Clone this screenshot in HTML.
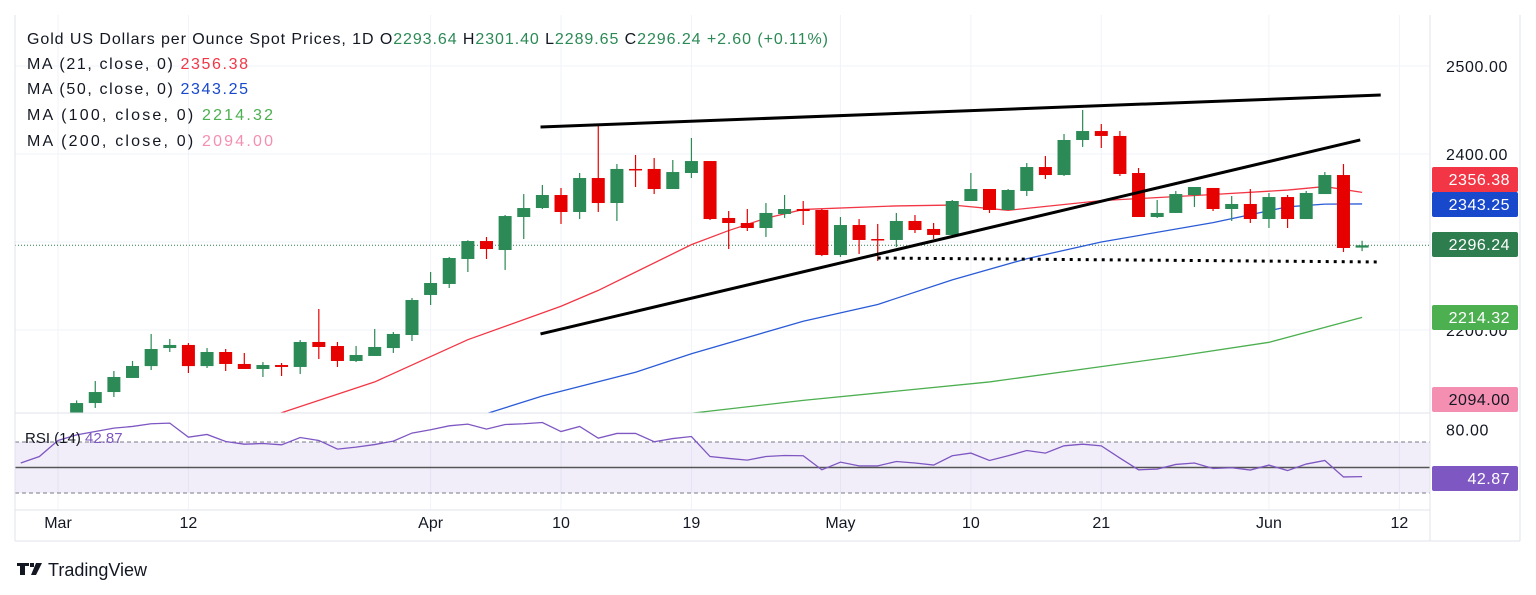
<!DOCTYPE html>
<html><head><meta charset="utf-8">
<style>
html,body{margin:0;padding:0;background:#fff;}
svg{display:block;font-family:"Liberation Sans",sans-serif;}
</style></head>
<body>
<svg id="chart" width="1536" height="595" viewBox="0 0 1536 595" xmlns="http://www.w3.org/2000/svg">
<defs>
<clipPath id="pc"><rect x="15" y="15" width="1415" height="398"/></clipPath>
<clipPath id="rc"><rect x="15" y="413" width="1415" height="97"/></clipPath>
</defs>
<g id="grid"></g>
<g id="price" clip-path="url(#pc)"></g>
<g id="rsi" clip-path="url(#rc)"></g>
<g id="axes"></g>
<g font-size="16" fill="#131722">
<text x="27" y="44" textLength="801" lengthAdjust="spacing">Gold US Dollars per Ounce Spot Prices, 1D  O<tspan fill="#2b8a55">2293.64</tspan> H<tspan fill="#2b8a55">2301.40</tspan> L<tspan fill="#2b8a55">2289.65</tspan> C<tspan fill="#2b8a55">2296.24 +2.60 (+0.11%)</tspan></text>
<text x="27" y="69" textLength="221" lengthAdjust="spacing">MA (21, close, 0)  <tspan fill="#f23645">2356.38</tspan></text>
<text x="27" y="94" textLength="221" lengthAdjust="spacing">MA (50, close, 0)  <tspan fill="#1848cc">2343.25</tspan></text>
<text x="27" y="120" textLength="246" lengthAdjust="spacing">MA (100, close, 0)  <tspan fill="#4caf50">2214.32</tspan></text>
<text x="27" y="146" textLength="246" lengthAdjust="spacing">MA (200, close, 0)  <tspan fill="#f48fb1">2094.00</tspan></text>
<text x="25" y="443" font-size="15">RSI (14)  <tspan fill="#7e57c2">42.87</tspan></text>
</g>
<g>
<path d="M17 563h12v3h-4v9h-5v-9h-3z M30 563h4v4h-4z M36 563h6l-6 12h-5z" fill="#131722"/>
<text x="48" y="576" font-size="18" fill="#131722">TradingView</text>
</g>
</svg>
<script>
const opens  =[2045,2102,2117,2129.5,2145.5,2159,2179.5,2183,2159,2175,2161.4,2155.7,2160.2,2158,2186.4,2181.8,2164.8,2170.5,2179.5,2194.3,2239.8,2252.3,2280.7,2301.1,2290.9,2328.4,2338.6,2353.4,2334.1,2372.7,2344.3,2383,2383,2360.2,2378.4,2392,2327.3,2321.6,2315.9,2331.8,2337.5,2336.4,2285.2,2319.3,2303.4,2302.3,2323.9,2314.8,2308,2346.6,2360.2,2336.4,2358,2385.2,2376.1,2415.9,2426.1,2420.5,2378.4,2328.4,2333,2353.4,2361.4,2337.5,2343.2,2326.1,2351.1,2326.1,2354.5,2376.1,2293.64];
const highs  =[2088,2120,2142,2153.4,2164.8,2195.5,2189.8,2185.2,2179.5,2178.4,2173.9,2163.6,2162.5,2188.6,2223.9,2186.4,2181.8,2201.1,2197.7,2236.4,2265.9,2283,2302,2305.7,2330.7,2354.5,2364.8,2361.4,2378.4,2431.8,2388.6,2398.9,2395.5,2393.2,2418.2,2392,2335.2,2337.5,2344.3,2353.4,2346.6,2337.5,2328.4,2326.1,2320.5,2333,2330.7,2321.6,2347.7,2378.4,2360.2,2360.2,2389.8,2397.7,2422.7,2450,2434.1,2426.1,2384.1,2347.7,2358,2362.5,2361.4,2352.3,2360.2,2355.7,2353.4,2358,2379.5,2388.6,2301.4];
const lows   =[2040,2097,2111.4,2123.9,2145.5,2154.5,2175,2151.1,2156.8,2153.4,2155.7,2146.6,2147.7,2150,2167,2158,2163.6,2170.5,2173.9,2187.5,2228.4,2247.7,2265.9,2280.7,2268.2,2303.4,2337.5,2320.5,2326.1,2334.1,2323.9,2362.5,2354.5,2360.2,2372.7,2325,2292,2312.5,2305.7,2327.3,2319.3,2284,2283,2286.4,2278.4,2294.3,2310.2,2303.4,2308,2346.6,2333,2336.4,2352.3,2371.6,2375,2408,2406.8,2375,2328.4,2327.3,2333,2339.8,2335.2,2323.9,2321.6,2315.9,2315.9,2326.1,2354.5,2288.6,2289.65];
const closes =[2083,2117,2129.5,2146.6,2159.1,2178.4,2183,2159,2175,2161.4,2155.7,2160.2,2158,2186.4,2180.7,2164.8,2171.6,2180.7,2195.5,2234.1,2253.4,2281.8,2301.1,2292,2329.5,2338.6,2353.4,2334.1,2372.7,2344.3,2383,2381.8,2360.2,2379.5,2392,2326.1,2321.6,2315.9,2333,2337.5,2335.2,2285.2,2319.3,2302.3,2302.3,2323.9,2313.6,2308,2346.6,2360.2,2336.4,2359.1,2385.2,2376.1,2415.9,2426.1,2420.5,2377.3,2328.4,2333,2354.5,2362.5,2337.5,2343.2,2326.1,2351.1,2326.1,2355.7,2376.1,2293.2,2296.24];
const ma21Idx=[11,12,17,22,27,29,34,36,38,40,45,48,51,56,62,66,68,70];
const ma21Val=[2098,2106,2141,2189,2227,2245,2297,2313,2327,2337,2341,2342,2336,2347,2354,2359,2363,2356.38];
const ma50Idx=[22,23,26,31,34,40,44,48,52,56,62,66,68,70];
const ma50Val=[2098,2105,2125,2152,2173,2210,2229,2257,2281,2300,2322,2340,2343,2343.25];
const ma100Idx=[33,40,50,60,65,70];
const ma100Val=[2103,2120,2141,2170,2186,2214.32];
const rsiIdx=[-2,-1,0,1,2,3,4,5,6,7,8,9,10,11,12,13,14,15,16,17,18,19,20,21,22,23,24,25,26,27,28,29,30,31,32,33,34,35,36,37,38,39,40,41,42,43,44,45,46,47,48,49,50,51,52,53,54,55,56,57,58,59,60,61,62,63,64,65,66,67,68,69,70];
const rsiVal=[53.5,58.6,71.2,75.6,78.2,80.9,82.2,84.3,84.8,73.8,75.9,70.4,68.3,68.8,67.8,73.5,71.2,64.4,66,68,70.7,77,79.6,82.7,84,80.1,83.7,84.3,85.3,78.2,82.2,73,76.7,76.7,70.2,72.7,74.3,58.6,57.1,55.8,58.6,59.4,59.2,48.2,54.2,51.3,51.3,54.7,53.5,51.9,59.2,61.3,55.5,59.2,63.3,61.3,67,68.3,67,57.4,48.2,48.7,52.4,53.5,49.2,49.8,48,51.9,47.6,52.7,55.5,42.6,42.87];
const xLabels=["Mar","12","Apr","10","19","May","10","21","Jun","12"];
const xLabelIdx=[0,7,20,27,34,42,49,56,65,72];
const priceTicks=[2500,2400,2300,2200];
const priceTickLabels=["2500.00","2400.00","","2200.00"];
const upperTrend=[[25.9,2430.7],[71,2467]];
const lowerTrend=[[25.9,2195.5],[69.9,2416]];
const supportLine=[[44,2281.8],[71,2277.3]];

const NS="http://www.w3.org/2000/svg";
const X=i=>58+18.63*i;
const Y=p=>154+(2400-p)*0.88;
const RY=v=>467.5-(v-50)*1.275;
function mk(tag,attrs,parent){const e=document.createElementNS(NS,tag);for(const k in attrs)e.setAttribute(k,attrs[k]);parent.appendChild(e);return e;}
const grid=document.getElementById('grid'),price=document.getElementById('price'),rsi=document.getElementById('rsi'),axes=document.getElementById('axes');

xLabelIdx.forEach((ix,k)=>{
  const l=mk('line',{x1:X(ix),x2:X(ix),y1:15,y2:510,stroke:'#f0f3fa','stroke-width':1},grid);
  
  
});
priceTicks.forEach(p=>{
  const l=mk('line',{x1:15,x2:1430,y1:Y(p),y2:Y(p),stroke:'#f0f3fa','stroke-width':1},grid);
  
  
});
const bg=mk('rect',{x:15,y:RY(70),width:1415,height:RY(30)-RY(70),fill:'#7e57c2','fill-opacity':0.1},rsi);


[70,30].forEach(v=>{
  const l=mk('line',{x1:15,x2:1430,y1:RY(v),y2:RY(v),stroke:'#787b86','stroke-dasharray':'4 3','stroke-width':1},rsi);
  
  
});
const mid=mk('line',{x1:15,x2:1430,y1:RY(50),y2:RY(50),stroke:'#555','stroke-width':1.5},rsi);


const rp=mk('polyline',{points:rsiIdx.map((ix,k)=>X(ix)+','+RY(rsiVal[k])).join(' '),fill:'none',stroke:'#7e57c2','stroke-width':1.3},rsi);



const lp=mk('line',{x1:15,x2:1430,y1:Y(closes[closes.length-1]),y2:Y(closes[closes.length-1]),stroke:'#2e7d4f','stroke-dasharray':'1 2','stroke-width':1},price);



function maLine(idx,val,color,name){
  const p=mk('polyline',{points:idx.map((ix,k)=>X(ix)+','+Y(val[k])).join(' '),fill:'none',stroke:color,'stroke-width':1.3},price);
  
  
}
maLine(ma100Idx,ma100Val,'#4caf50','ma100-line');
maLine(ma50Idx,ma50Val,'#2a5bd7','ma50-line');
maLine(ma21Idx,ma21Val,'#f23645','ma21-line');

opens.forEach((o,i)=>{
  const c=closes[i],up=c>=o,col=up?'#2b8a55':'#e60000';
  const g=mk('g',{},price);
  
  
  mk('line',{x1:X(i),x2:X(i),y1:Y(highs[i]),y2:Y(lows[i]),stroke:col,'stroke-width':1.2},g);
  const top=Y(Math.max(o,c)),h=Math.max(1.5,Math.abs(Y(o)-Y(c)));
  mk('rect',{x:X(i)-6.5,y:top,width:13,height:h,fill:col},g);
});

function tl(pts,name,dash){
  const a={x1:X(pts[0][0]),y1:Y(pts[0][1]),x2:X(pts[1][0]),y2:Y(pts[1][1]),stroke:'#000','stroke-width':3};
  if(dash)a['stroke-dasharray']='3 5';
  const l=mk('line',a,price);
  
  
}
tl(upperTrend,'upper-trendline');
tl(lowerTrend,'lower-trendline');
tl(supportLine,'support-line',true);

[[15,15,15,541],[15,541,1520,541],[1520,15,1520,541],[1430,15,1430,541],[15,413,1430,413],[15,510,1430,510]].forEach(s=>{
  const l=mk('line',{x1:s[0],y1:s[1],x2:s[2],y2:s[3],stroke:'#e0e3eb','stroke-width':1},axes);
  
  
});
xLabels.forEach((t,k)=>{
  const e=mk('text',{x:X(xLabelIdx[k]),y:528,'text-anchor':'middle','font-size':16,fill:'#131722'},axes);
  e.textContent=t;
  
  
});
priceTicks.forEach((p,k)=>{
  const e=mk('text',{x:1446,y:Y(p)+6,'font-size':16,'letter-spacing':0.6,fill:'#131722'},axes);
  e.textContent=priceTickLabels[k];
  
  
});
const r80=mk('text',{x:1446,y:RY(80)+6,'font-size':16,'letter-spacing':0.6,fill:'#131722'},axes);
r80.textContent="80.00";


const tagText=["2356.38","2343.25","2296.24","2214.32","2094.00","42.87"];
const tagTop=[167,192,232,305,387,466];
const tagFill=['#f23645','#1848cc','#2e7d4f','#4caf50','#f48fb1','#7e57c2'];
const tagInk=['#fff','#fff','#fff','#fff','#131722','#fff'];
tagText.forEach((t,k)=>{
  const r=mk('rect',{x:1432,y:tagTop[k],width:86,height:25,rx:2,fill:tagFill[k]},axes);
  
  
  const e=mk('text',{x:1510,y:tagTop[k]+18,'text-anchor':'end','font-size':16,'letter-spacing':0.5,fill:tagInk[k]},axes);
  e.textContent=t;
  
  
});
</script>
</body></html>
